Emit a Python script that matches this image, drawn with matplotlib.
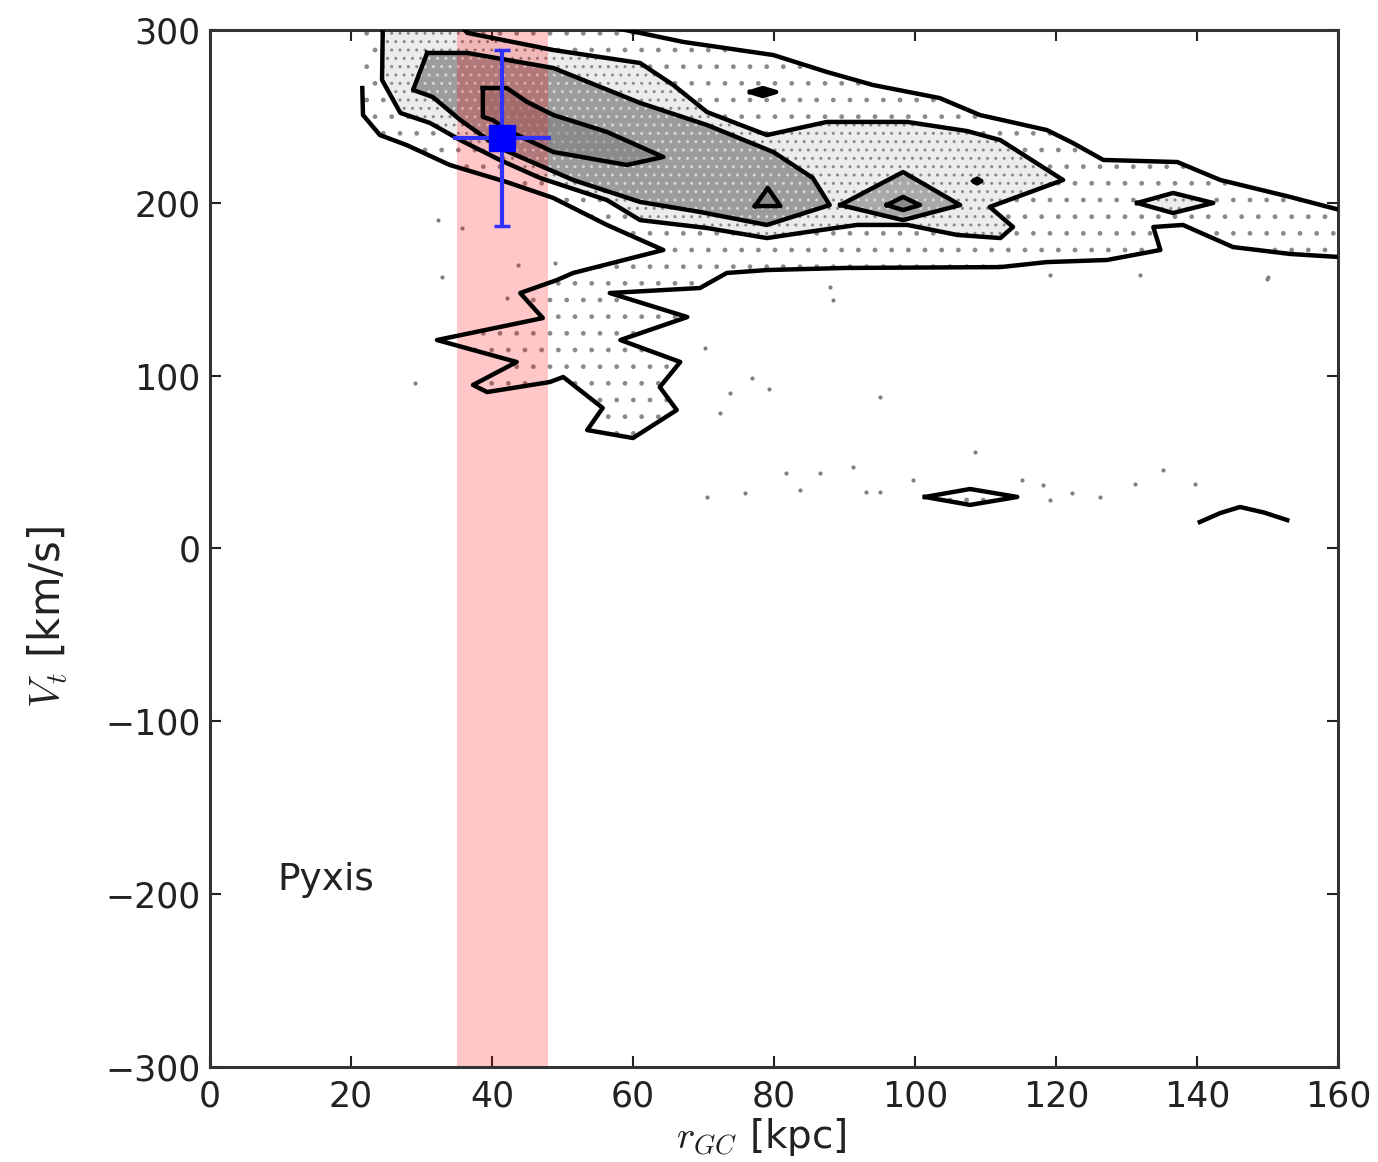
import matplotlib
matplotlib.use('Agg')
import matplotlib.pyplot as plt

plt.rcParams['mathtext.fontset'] = 'cm'
plt.rcParams['font.family'] = 'DejaVu Sans'
plt.rcParams['hatch.linewidth'] = 1.0

# Contour traces: r_GC [kpc], V_t [km/s]
# outermost level, lower branch (open end on the left, spike, zigzag, bottom edge)
outer_low_r = [21.6, 21.7, 24.1, 27.9, 34.0, 42.1, 48.7, 56.3, 64.3, 51.5,
               49.2, 44.0, 47.2, 32.2, 43.5, 37.3, 39.3, 48.2, 50.1, 55.7,
               53.5, 60.0, 66.2, 63.8, 66.7, 58.2, 67.7, 56.7, 69.5, 73.3,
               79.0, 90.1, 112.1, 118.7, 127.2, 134.8, 133.8, 138.0, 145.1, 153.2,
               160.3]
outer_low_v = [266.4, 250.8, 239.2, 233.4, 221.9, 212.0, 202.8, 187.2, 172.7, 159.4,
               155.3, 147.8, 133.3, 120.6, 107.9, 94.6, 90.5, 96.3, 99.2, 81.3,
               68.5, 63.9, 80.1, 93.4, 107.9, 120.6, 133.9, 147.8, 150.7, 159.4,
               161.1, 162.3, 162.8, 165.7, 166.9, 172.7, 186.0, 187.2, 174.4, 170.4,
               168.6]
# outermost level, upper branch (right edge -> leaves through the top)
outer_top_r = [160.3, 153.2, 143.3, 137.2, 126.7, 122.4, 118.7, 109.2, 103.5, 94.0,
               87.5, 79.9, 67.1, 61.0, 55.3]
outer_top_v = [195.8, 203.4, 213.2, 223.6, 224.8, 234.6, 242.1, 250.8, 260.6, 268.2,
               275.7, 285.5, 293.1, 298.3, 302.9]

# second level
mid_r = [24.4, 24.5, 24.4, 27.0, 31.2, 35.5, 41.1, 46.8, 56.3, 61.0,
         70.5, 79.0, 84.7, 91.8, 98.9, 106.0, 112.1, 113.9, 110.6, 121.0,
         112.1, 107.4, 98.9, 87.5, 79.0, 70.5, 65.7, 61.0, 48.7, 36.5, 35.5]
mid_v = [302.9, 298.3, 271.1, 252.0, 246.2, 236.3, 224.8, 214.4, 201.6, 190.0,
         185.4, 179.6, 183.1, 187.2, 187.2, 181.4, 179.6, 186.0, 197.6, 213.2,
         236.3, 241.5, 246.8, 246.8, 239.2, 252.5, 268.2, 280.9, 288.4, 298.3, 302.9]

# third level (dense core)
core_r = [30.8, 36.5, 48.7, 61.0, 70.5, 79.9, 85.5, 87.9, 79.0, 69.5,
          61.0, 51.5, 41.1, 35.5, 31.6, 28.8, 30.8]
core_v = [286.7, 286.7, 278.0, 257.8, 245.0, 229.4, 214.4, 198.7, 187.2, 194.7,
          200.5, 213.2, 231.7, 247.9, 261.2, 265.3, 286.7]

# innermost level
peak_r = [38.7, 42.1, 45.0, 48.7, 56.3, 64.3, 59.1, 48.7, 42.1, 40.1, 38.7, 38.7]
peak_v = [266.4, 266.4, 258.3, 250.8, 241.0, 226.5, 221.9, 229.4, 242.1, 247.9, 249.7, 266.4]

# small islands
blob_r = [76.6, 78.4, 80.3, 78.4, 76.6]
blob_v = [264.1, 266.4, 264.1, 261.8, 264.1]
dot_r = [108.3, 108.8, 109.4, 108.8, 108.3]
dot_v = [212.6, 214.0, 212.6, 211.2, 212.6]
tri_r = [77.3, 79.1, 80.9, 77.3]
tri_v = [198.1, 208.6, 198.1, 198.1]
dia3_r = [89.4, 98.3, 106.4, 98.3, 89.4]
dia3_v = [198.7, 217.8, 198.7, 190.0, 198.7]
dia4_r = [96.0, 98.3, 100.7, 98.3, 96.0]
dia4_v = [198.7, 203.4, 198.7, 195.8, 198.7]
dia2_r = [131.5, 136.6, 142.3, 136.6, 131.5]
dia2_v = [199.9, 205.7, 199.9, 194.1, 199.9]
dia1_r = [101.4, 107.8, 114.5, 107.8, 101.4]
dia1_v = [29.8, 34.4, 29.8, 25.2, 29.8]
arc_r = [140.4, 143.3, 146.1, 149.5, 152.8]
arc_v = [15.3, 20.5, 24.0, 20.8, 16.4]

# isolated stars outside the contours
sparse_r = [29.1, 32.3, 35.7, 32.9, 43.7, 42.1, 48.9, 70.2, 72.3, 73.8,
            76.9, 79.3, 95.0, 87.9, 88.4, 150.1, 119.1, 131.9, 149.9,
            70.5, 75.9, 81.7, 83.7, 86.5, 91.2, 93.0, 95.0, 99.7, 108.5,
            115.2, 118.2, 119.1, 122.3, 126.2, 131.2, 135.2, 139.7]
sparse_v = [95.7, 190.0, 185.4, 157.1, 164.0, 144.9, 165.2, 116.0, 78.4, 90.0,
            98.6, 92.2, 87.6, 151.3, 143.8, 157.1, 158.2, 158.2, 155.9,
            29.8, 32.1, 43.6, 33.8, 43.6, 47.1, 32.6, 32.6, 39.6, 55.8,
            39.6, 36.7, 28.0, 32.1, 29.8, 37.3, 45.4, 37.3]

# Pyxis
band = (35.0, 48.0)
pyx_r, pyx_v = 41.4, 237.5
pyx_rerr, pyx_verr = 7.0, 51.0

fig = plt.figure(figsize=(13.78, 11.62), dpi=100)
ax = fig.add_axes([0.1524, 0.0818, 0.8186, 0.8924])

# density shading of the star particles
l1_r = outer_low_r + outer_top_r + [21.6]
l1_v = outer_low_v + outer_top_v + [302.9]
ax.fill(l1_r, l1_v, facecolor='white', edgecolor='#8a8a8a', hatch='.', lw=0, zorder=1)
ax.fill(dia1_r, dia1_v, facecolor='white', edgecolor='#8a8a8a', hatch='.', lw=0, zorder=1)
ax.fill(mid_r, mid_v, facecolor='#ececec', edgecolor='#8a8a8a', hatch='..', lw=0, zorder=1.1)
ax.fill(dia2_r, dia2_v, facecolor='#ececec', edgecolor='#8a8a8a', hatch='..', lw=0, zorder=1.1)
ax.fill(core_r, core_v, facecolor='#9c9c9c', edgecolor='#d6d6d6', hatch='..', lw=0, zorder=1.2)
ax.fill(dia3_r, dia3_v, facecolor='#a8a8a8', edgecolor='#d6d6d6', hatch='..', lw=0, zorder=1.2)
ax.fill(peak_r, peak_v, facecolor='#8a8a8a', edgecolor='#a8a8a8', hatch='..', lw=0, zorder=1.3)
ax.fill(tri_r, tri_v, facecolor='#8a8a8a', lw=0, zorder=1.3)
ax.fill(dia4_r, dia4_v, facecolor='#8a8a8a', lw=0, zorder=1.3)
ax.fill(blob_r, blob_v, facecolor='black', lw=0, zorder=3)
ax.fill(dot_r, dot_v, facecolor='black', lw=0, zorder=3)
ax.scatter(sparse_r, sparse_v, s=9, color='#808080', lw=0, zorder=1.5)

# Pyxis distance range
ax.axvspan(band[0], band[1], color='red', alpha=0.22, lw=0, zorder=2)

# contour lines
for r, v in [(outer_low_r, outer_low_v), (outer_top_r, outer_top_v), (mid_r, mid_v),
             (core_r, core_v), (peak_r, peak_v), (tri_r, tri_v), (dia3_r, dia3_v),
             (dia4_r, dia4_v), (dia2_r, dia2_v), (dia1_r, dia1_v), (arc_r, arc_v),
             (blob_r, blob_v), (dot_r, dot_v)]:
    ax.plot(r, v, color='black', lw=3.2, zorder=3)

# Pyxis point: caps on the velocity bar only
ax.errorbar(pyx_r, pyx_v, xerr=pyx_rerr, fmt='none', ecolor='#3030ff',
            elinewidth=3, capsize=0, zorder=5)
ax.errorbar(pyx_r, pyx_v, yerr=pyx_verr, fmt='s', color='#0000ff',
            ecolor='#3030ff', ms=19, elinewidth=3, capsize=6, capthick=2.5, zorder=5)

ax.text(9.6, -192, 'Pyxis', fontsize=27, ha='left', va='center', color='#222222')

ax.set_xlim(0, 160)
ax.set_ylim(-300, 300)
ax.set_xticks(range(0, 161, 20))
ax.set_yticks(range(-300, 301, 100))
ax.tick_params(direction='in', top=True, right=True, length=8, width=1.5,
               labelsize=25, colors='#222222')
ax.tick_params(axis='x', pad=9)
ax.tick_params(axis='y', pad=7)
for s in ax.spines.values():
    s.set_linewidth(2.2)
    s.set_color('#333333')

ax.set_xlabel(r'$r_{GC}$ [kpc]', fontsize=28, color='#222222')
ax.set_ylabel(r'$V_t$ [km/s]', fontsize=30, color='#222222')
ax.xaxis.set_label_coords(0.4885, -0.047)
ax.yaxis.set_label_coords(-0.124, 0.434)

fig.savefig('out.png', dpi=100)
